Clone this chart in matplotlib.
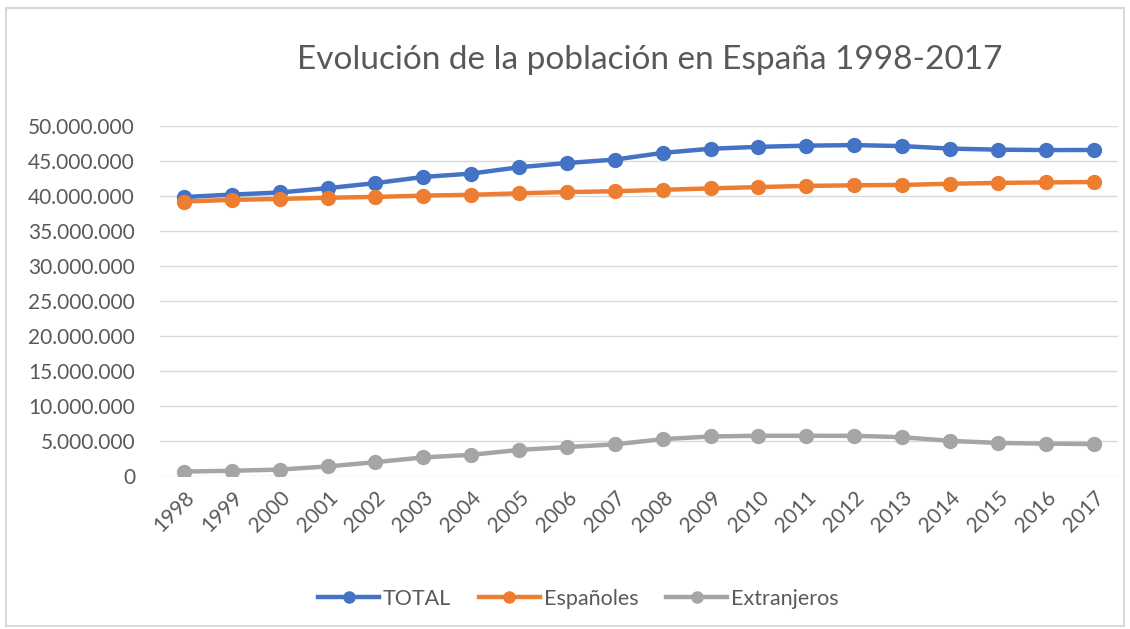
import matplotlib.pyplot as plt
from matplotlib.patches import Rectangle
from matplotlib.ticker import FuncFormatter

years = [str(y) for y in range(1998, 2018)]
total = [39.85, 40.20, 40.50, 41.12, 41.84, 42.72, 43.20, 44.11, 44.71, 45.20,
         46.16, 46.75, 47.02, 47.19, 47.27, 47.13, 46.77, 46.62, 46.56, 46.57]
extranjeros = [0.64, 0.75, 0.92, 1.37, 1.98, 2.66, 3.03, 3.73, 4.14, 4.52,
               5.27, 5.65, 5.75, 5.75, 5.74, 5.55, 5.02, 4.73, 4.62, 4.57]
espanoles = [39.21, 39.45, 39.58, 39.75, 39.87, 40.05, 40.17, 40.38, 40.56, 40.68,
             40.88, 41.09, 41.27, 41.44, 41.53, 41.58, 41.75, 41.87, 41.94, 42.00]

plt.rcParams['font.family'] = ['Lato', 'DejaVu Sans']
txt = '#595959'

fig = plt.figure(figsize=(11.3, 6.29), dpi=100)
ax = fig.add_axes([0.1416, 0.2432, 0.8474, 0.5565])

x = range(len(years))
series = [(total, 'TOTAL', '#4472C4'),
          (espanoles, 'Españoles', '#ED7D31'),
          (extranjeros, 'Extranjeros', '#A5A5A5')]
for vals, name, col in series:
    ax.plot(x, [v * 1e6 for v in vals], color=col, lw=3.2, marker='o', ms=10, label=name)

ax.set_xlim(-0.5, len(years) - 0.5)
ax.set_ylim(0, 50e6)
ax.set_yticks(range(0, 50000001, 5000000))
ax.yaxis.set_major_formatter(FuncFormatter(lambda v, p: f"{int(v):,}".replace(',', '.')))
ax.set_xticks(list(x))
ax.set_xticklabels(years, rotation=45, ha='right', rotation_mode='anchor')
ax.tick_params(axis='both', length=0, labelsize=15, colors=txt)
ax.tick_params(axis='y', pad=18)
ax.tick_params(axis='x', pad=8)
ax.grid(axis='y', color='#D9D9D9', lw=1)
ax.set_axisbelow(True)
for s in ax.spines.values():
    s.set_visible(False)

fig.text(0.575, 0.905, 'Evolución de la población en España 1998-2017', ha='center',
         va='center', fontsize=24, color=txt)

fig.legend(loc='center', bbox_to_anchor=(0.512, 0.048), ncol=3, frameon=False,
           fontsize=15.5, labelcolor=txt, handlelength=2.8, columnspacing=1.3,
           handletextpad=0.2, markerscale=0.8)

fig.patches.append(Rectangle((0.005, 0.005), 0.99, 0.982, transform=fig.transFigure,
                             fill=False, edgecolor='#D9D9D9', lw=1.5))

fig.savefig('out.png', dpi=100)
